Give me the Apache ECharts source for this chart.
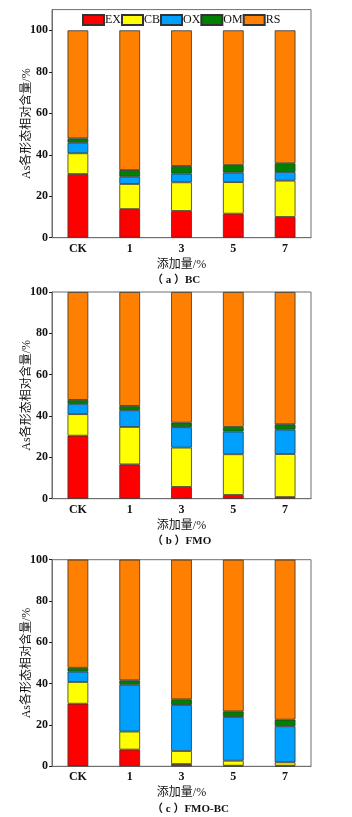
<!DOCTYPE html>
<html>
<head>
<meta charset="utf-8">
<script src="https://cdn.jsdelivr.net/npm/echarts@6/dist/echarts.min.js"></script>
<style>
  html, body { margin: 0; padding: 0; background: #fff; }
  #chart { width: 352px; height: 817px; }
</style>
</head>
<body>
<div id="chart"></div>
<script>
const categories = ['CK', '1', '3', '5', '7'];
const forms = ['EX', 'CB', 'OX', 'OM', 'RS'];
const colors = ['#FF0000', '#FFFF00', '#00A0FF', '#008000', '#FF8000'];
const yTicks = [0, 20, 40, 60, 80, 100];

// (a) BC
const bcEX = [30.7, 13.8, 12.9, 11.6, 10.0];
const bcCB = [10.0, 12.1, 13.8, 15.2, 17.5];
const bcOX = [5.1, 3.5, 4.2, 4.6, 4.2];
const bcOM = [2.1, 3.2, 3.7, 3.6, 4.2];
const bcRS = [52.1, 67.4, 65.4, 65.0, 64.1];

// (b) FMO
const fmoEX = [30.5, 16.6, 5.7, 1.8, 0.8];
const fmoCB = [10.4, 18.1, 19.0, 19.7, 20.8];
const fmoOX = [5.0, 8.1, 9.9, 11.0, 11.8];
const fmoOM = [1.9, 2.1, 2.2, 2.2, 2.6];
const fmoRS = [52.2, 55.1, 63.2, 65.3, 64.0];

// (c) FMO-BC
const fbEX = [30.3, 8.1, 1.1, 0.3, 0.3];
const fbCB = [10.5, 8.7, 6.3, 2.4, 1.6];
const fbOX = [5.0, 22.7, 22.3, 21.2, 17.5];
const fbOM = [1.9, 2.1, 2.7, 2.7, 3.2];
const fbRS = [52.3, 58.4, 67.6, 73.4, 77.4];

const panels = [
    { caption: '（ a ）BC', data: [bcEX, bcCB, bcOX, bcOM, bcRS], top: 9.6, height: 228.1, max: 110 },
    { caption: '（ b ）FMO', data: [fmoEX, fmoCB, fmoOX, fmoOM, fmoRS], top: 292, height: 206.7, max: 100 },
    { caption: '（ c ）FMO-BC', data: [fbEX, fbCB, fbOX, fbOM, fbRS], top: 559.7, height: 206.6, max: 100 }
];

const serif = 'Liberation Serif, Noto Sans CJK SC';
const axisColor = '#6e6e6e';

let grids = [], xAxes = [], yAxes = [], series = [], texts = [];
panels.forEach((p, i) => {
    grids.push({ left: 52, width: 259, top: p.top, height: p.height, show: true, borderColor: axisColor, borderWidth: 1 });
    // labels + center ticks
    xAxes.push({
        type: 'category', gridIndex: i, data: categories,
        name: '添加量/%', nameLocation: 'middle', nameGap: 21, nameMoveOverlap: false,
        nameTextStyle: { fontFamily: serif, fontSize: 12, color: '#111' },
        axisLine: { lineStyle: { color: axisColor } },
        axisTick: { inside: true, length: 3, alignWithLabel: true, lineStyle: { color: '#222' } },
        axisLabel: { fontFamily: serif, fontSize: 12, fontWeight: 'bold', color: '#111', margin: 5 }
    });
    // boundary ticks
    xAxes.push({
        type: 'category', gridIndex: i, data: categories, position: 'bottom',
        axisLine: { show: false },
        axisTick: { inside: true, length: 2, lineStyle: { color: '#444' } },
        axisLabel: { show: false }
    });
    yAxes.push({
        type: 'value', gridIndex: i, min: 0, max: p.max, interval: 20,
        name: 'As各形态相对含量/%', nameLocation: 'middle', nameGap: 19, nameMoveOverlap: false,
        nameTextStyle: { fontFamily: serif, fontSize: 12, color: '#111' },
        splitLine: { show: false },
        axisLine: { show: true, lineStyle: { color: axisColor } },
        axisTick: { show: true, length: 3, customValues: yTicks, lineStyle: { color: '#222' } },
        axisLabel: { fontFamily: serif, fontSize: 12, fontWeight: 'bold', color: '#111', margin: 4, customValues: yTicks }
    });
    p.data.forEach((vals, k) => {
        series.push({
            type: 'bar', name: forms[k], stack: 'p' + i,
            xAxisIndex: i * 2, yAxisIndex: i,
            barWidth: '40%', data: vals,
            itemStyle: { color: colors[k], borderColor: '#333', borderWidth: 0.8 }
        });
    });
    texts.push({
        type: 'text', left: 152,
        top: p.top + p.height + 37,
        style: { text: p.caption, font: 'bold 11px ' + serif, fill: '#111' }
    });
});

let chart = echarts.init(document.getElementById('chart'), null, { renderer: 'canvas' });
chart.setOption({
    animation: false,
    color: colors,
    legend: {
        left: 82, top: 14, padding: 0, itemGap: 0, itemWidth: 21, itemHeight: 10,
        icon: 'rect',
        data: forms,
        textStyle: { fontFamily: serif, fontSize: 12, color: '#111', padding: [0, 0, 0, -4] }
    },
    grid: grids,
    xAxis: xAxes,
    yAxis: yAxes,
    series: series,
    graphic: texts
});
</script>
</body>
</html>
